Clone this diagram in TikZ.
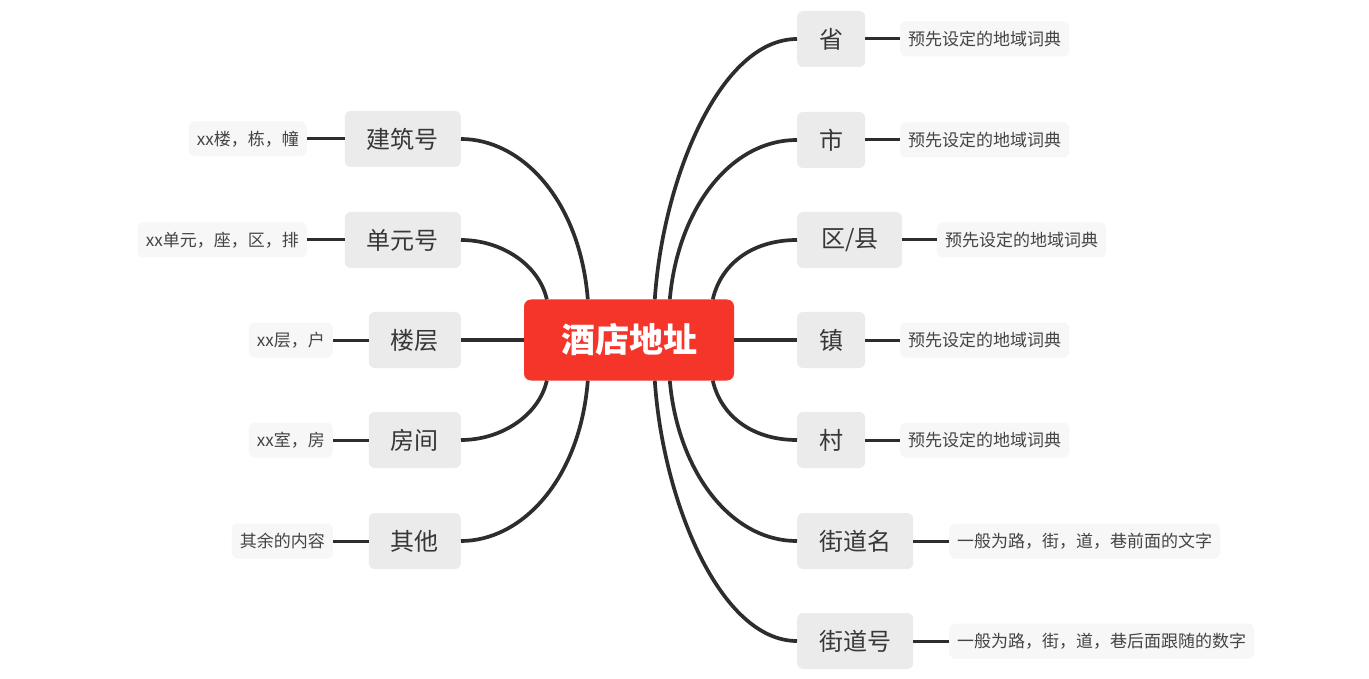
\documentclass[tikz,border=0pt]{standalone}
\usepackage{fontspec}
\newfontfamily\cjk{Noto Sans CJK SC}
\usetikzlibrary{calc}
\definecolor{rootred}{RGB}{245,52,42}
\definecolor{branchgray}{RGB}{235,235,235}
\definecolor{leafgray}{RGB}{247,247,247}
\definecolor{textdark}{RGB}{55,55,55}
\definecolor{textmid}{RGB}{68,68,68}
\definecolor{linedark}{RGB}{45,45,45}
\begin{document}
\begin{tikzpicture}[x=1pt,y=-1pt,
  rootbox/.style={fill=rootred, rounded corners=7pt, minimum width=210pt, minimum height=81pt, inner sep=0pt, text=white, font=\cjk\bfseries\fontsize{34}{40}\selectfont},
  branchbox/.style={fill=branchgray, rounded corners=6pt, minimum height=56pt, inner xsep=22pt, inner ysep=0pt, text=textdark, font=\cjk\fontsize{24}{28}\selectfont},
  leafbox/.style={fill=leafgray, rounded corners=6pt, minimum height=35pt, inner xsep=8pt, inner ysep=0pt, text=textmid, font=\cjk\fontsize{17}{20}\selectfont},
  conn/.style={draw=linedark, line width=3.7pt},
  leafconn/.style={draw=linedark, line width=3pt}]
\useasboundingbox (0,0) rectangle (1369,679);
\fill[white] (0,0) rectangle (1369,679);

% root
\node[rootbox] (root) at (629,340) {酒店地址};

% right branches
\node[branchbox, anchor=west] (sheng) at (797,39) {省};
\node[branchbox, anchor=west] (shi) at (797,140) {市};
\node[branchbox, anchor=west, minimum width=105pt] (qu) at (797,240) {区/县};
\node[branchbox, anchor=west] (zhen) at (797,340) {镇};
\node[branchbox, anchor=west] (cun) at (797,440) {村};
\node[branchbox, anchor=west] (jdm) at (797,541) {街道名};
\node[branchbox, anchor=west] (jdh) at (797,641) {街道号};

% right leaves
\node[leafbox, anchor=west] (shengL) at (900,39) {预先设定的地域词典};
\node[leafbox, anchor=west] (shiL) at (900,140) {预先设定的地域词典};
\node[leafbox, anchor=west] (quL) at (937,240) {预先设定的地域词典};
\node[leafbox, anchor=west] (zhenL) at (900,340) {预先设定的地域词典};
\node[leafbox, anchor=west] (cunL) at (900,440) {预先设定的地域词典};
\node[leafbox, anchor=west] (jdmL) at (949,541) {一般为路，街，道，巷前面的文字};
\node[leafbox, anchor=west] (jdhL) at (949,641) {一般为路，街，道，巷后面跟随的数字};

% left branches
\node[branchbox, anchor=east] (jzh) at (461,139) {建筑号};
\node[branchbox, anchor=east] (dyh) at (461,240) {单元号};
\node[branchbox, anchor=east] (lc) at (461,340) {楼层};
\node[branchbox, anchor=east] (fj) at (461,440) {房间};
\node[branchbox, anchor=east] (qt) at (461,541) {其他};

% left leaves
\node[leafbox, anchor=east] (jzhL) at (307,139) {xx楼，栋，幢};
\node[leafbox, anchor=east] (dyhL) at (307,240) {xx单元，座，区，排};
\node[leafbox, anchor=east] (lcL) at (333,340) {xx层，户};
\node[leafbox, anchor=east] (fjL) at (333,440) {xx室，房};
\node[leafbox, anchor=east] (qtL) at (333,541) {其余的内容};

% root to right branches
\draw[conn] ([xshift=131pt]root.north west) .. controls +(8,-120) and +(-77,0) .. (sheng.west);
\draw[conn] ([xshift=146pt]root.north west) .. controls +(8,-90) and +(-67,0) .. (shi.west);
\draw[conn] ([xshift=189pt]root.north west) .. controls +(8,-35) and +(-45,0) .. (qu.west);
\draw[conn] (root.east) -- (zhen.west);
\draw[conn] ([xshift=189pt]root.south west) .. controls +(8,35) and +(-45,0) .. (cun.west);
\draw[conn] ([xshift=146pt]root.south west) .. controls +(8,90) and +(-67,0) .. (jdm.west);
\draw[conn] ([xshift=131pt]root.south west) .. controls +(8,120) and +(-77,0) .. (jdh.west);

% root to left branches
\draw[conn] ([xshift=64pt]root.north west) .. controls +(-8,-100) and +(60,0) .. (jzh.east);
\draw[conn] ([xshift=23pt]root.north west) .. controls +(-8,-35) and +(40,0) .. (dyh.east);
\draw[conn] (root.west) -- (lc.east);
\draw[conn] ([xshift=23pt]root.south west) .. controls +(-8,35) and +(40,0) .. (fj.east);
\draw[conn] ([xshift=64pt]root.south west) .. controls +(-8,100) and +(60,0) .. (qt.east);

% branch to leaf
\foreach \b in {sheng,shi,qu,zhen,cun,jdm,jdh}
  \draw[leafconn] (\b.east) -- (\b L.west);
\foreach \b in {jzh,dyh,lc,fj,qt}
  \draw[leafconn] (\b.west) -- (\b L.east);
\end{tikzpicture}
\end{document}
